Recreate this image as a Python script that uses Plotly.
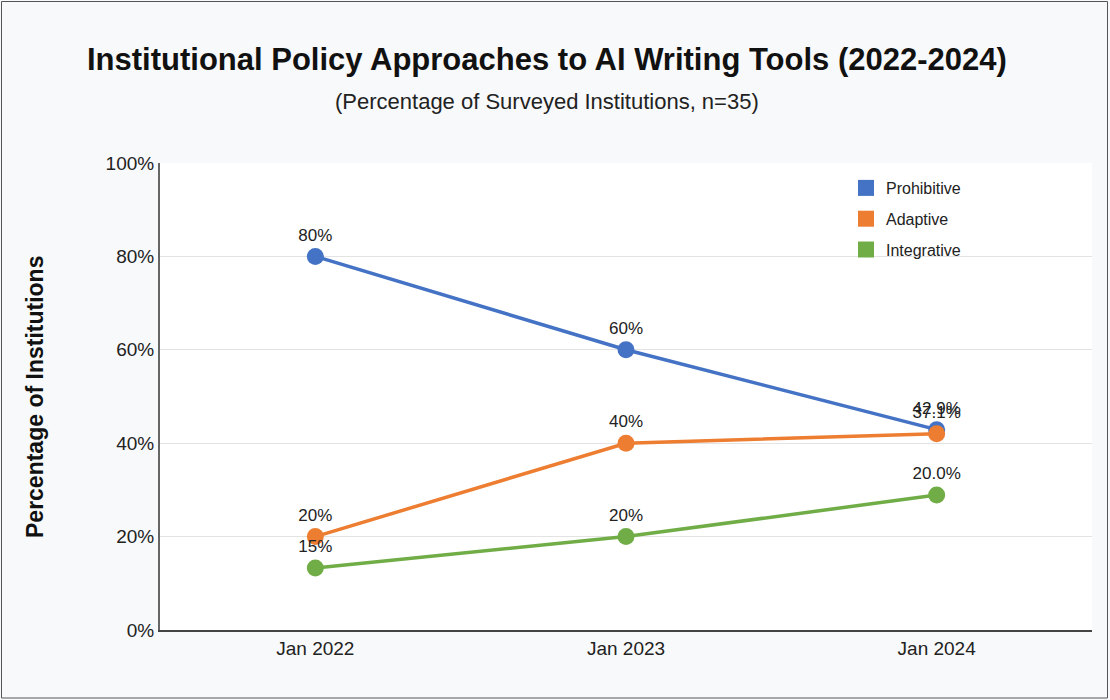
import plotly.graph_objects as go

years = ["Jan 2022", "Jan 2023", "Jan 2024"]
prohibitive = [80, 60, 42.9]
adaptive = [20, 40, 42.0]
integrative = [13.3, 20, 28.9]
prohibitive_labels = ["80%", "60%", "42.9%"]
adaptive_labels = ["20%", "40%", "37.1%"]
integrative_labels = ["15%", "20%", "20.0%"]
series_names = ["Prohibitive", "Adaptive", "Integrative"]
colors = ["#4472c4", "#ed7d31", "#70ad47"]

FONT = "Liberation Sans, Arial, sans-serif"

fig = go.Figure()
for name, vals, labs, col in zip(series_names, [prohibitive, adaptive, integrative],
                                 [prohibitive_labels, adaptive_labels, integrative_labels], colors):
    fig.add_trace(go.Scatter(
        x=years, y=vals, mode="lines+markers+text", name=name,
        text=labs, textposition="top center",
        textfont=dict(family=FONT, size=17, color="#222"),
        line=dict(color=col, width=3.5),
        marker=dict(color=col, size=17),
        showlegend=False, cliponaxis=False,
    ))
for name, col in zip(series_names, colors):
    fig.add_trace(go.Scatter(
        x=[None], y=[None], mode="markers", name=name, legendgroup=name,
        marker=dict(color=col, size=17, symbol="square"),
    ))

L, R, T, B = 160, 18, 163, 70
W, H = 1110, 700
pw, ph = W - L - R, H - T - B

def px_x(x):
    return (x - L) / pw

def px_y(y):
    return (H - B - y) / ph

fig.add_shape(type="rect", xref="paper", yref="paper",
              x0=px_x(1.5), x1=px_x(W - 2.5),
              y0=px_y(H - 2), y1=px_y(1.5),
              line=dict(color="#555", width=1), layer="below")

fig.add_annotation(text="<b>Institutional Policy Approaches to AI Writing Tools (2022-2024)</b>",
                   xref="paper", yref="paper", x=px_x(547), y=px_y(60),
                   xanchor="center", yanchor="middle", showarrow=False,
                   font=dict(family=FONT, size=31, color="#111"))
fig.add_annotation(text="(Percentage of Surveyed Institutions, n=35)",
                   xref="paper", yref="paper", x=px_x(547), y=px_y(101),
                   xanchor="center", yanchor="middle", showarrow=False,
                   font=dict(family=FONT, size=22, color="#222"))
fig.add_annotation(text="<b>Percentage of Institutions</b>", textangle=-90,
                   xref="paper", yref="paper", x=px_x(35), y=px_y(397),
                   xanchor="center", yanchor="middle", showarrow=False,
                   font=dict(family=FONT, size=23, color="#111"))

fig.update_layout(
    width=W, height=H,
    margin=dict(l=L, r=R, t=T, b=B),
    paper_bgcolor="#f8f9fa",
    plot_bgcolor="white",
    font=dict(family=FONT, color="#222"),
    xaxis=dict(
        type="category", range=[-0.5, 2.5],
        showgrid=False, showline=True, linecolor="#444", linewidth=2,
        tickfont=dict(size=19, color="#222"), ticks="",
    ),
    yaxis=dict(
        range=[0, 100], dtick=20, ticksuffix="%",
        showgrid=True, gridcolor="#e3e3e3", gridwidth=1,
        showline=True, linecolor="#666", linewidth=2,
        zeroline=False,
        tickfont=dict(size=19, color="#222"),
    ),
    legend=dict(
        x=px_x(846), y=px_y(171), xanchor="left", yanchor="top",
        bgcolor="rgba(0,0,0,0)", font=dict(size=16, color="#222"),
        tracegroupgap=7,
    ),
)

fig.write_html("out.html")
